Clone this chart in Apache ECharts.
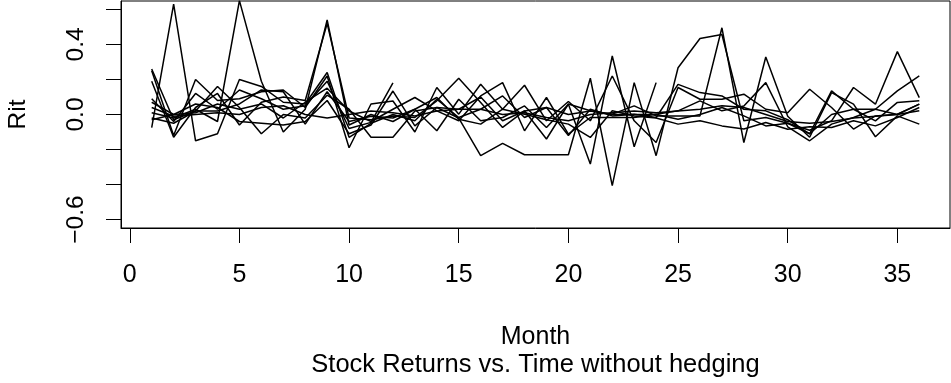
<!DOCTYPE html>
<html>
<head>
<meta charset="utf-8">
<script src="https://cdn.jsdelivr.net/npm/echarts@6/dist/echarts.min.js"></script>
<style>html,body{margin:0;padding:0;background:#fff}#c{width:951px;height:383px}</style>
</head>
<body>
<div id="c"></div>
<script>
var months = [1,2,3,4,5,6,7,8,9,10,11,12,13,14,15,16,17,18,19,20,21,22,23,24,25,26,27,28,29,30,31,32,33,34,35,36];
var xTicks = [0,5,10,15,20,25,30,35];
var yTicks = [-0.6,-0.4,-0.2,0,0.2,0.4,0.6];
var yTickLabels = [-0.6,0,0.4];

var s1 = [-0.075,0.63,-0.15,-0.11,0.20,0.16,0.07,0.06,0.24,-0.13,-0.05,0.00,-0.036,0.087,-0.017,0.03,0.106,-0.017,0.04,-0.12,0.03,-0.008,0.002,-0.017,0.172,0.125,0.106,0.03,0.021,-0.03,-0.11,0.135,0.03,-0.036,0.069,0.078];
var s2 = [0.01,-0.02,0.03,-0.04,0.65,0.19,-0.10,0.03,0.54,-0.06,0.00,-0.04,0.03,-0.093,0.087,-0.036,-0.017,0.049,-0.074,0.059,-0.283,0.334,-0.184,0.182,null,null,null,null,null,null,null,null,null,null,null,null];
var s3 = [0.26,-0.03,0.02,0.16,0.04,-0.11,0.00,-0.02,0.11,0.03,-0.13,-0.13,0.02,0.04,-0.02,-0.235,-0.165,-0.23,-0.23,-0.23,0.207,-0.406,0.182,-0.235,0.267,0.434,0.457,-0.036,-0.017,-0.05,-0.09,-0.036,0.154,0.059,0.359,0.096];
var s4 = [0.25,-0.12,0.20,0.08,0.09,0.13,0.14,0.04,0.22,-0.19,0.06,0.077,-0.10,0.154,0.002,0.173,0.03,0.167,-0.036,0.074,-0.036,0.22,-0.036,-0.16,0.154,0.087,0.087,0.116,0.03,0.01,0.144,0.04,-0.083,-0.008,0.002,0.059];
var s5 = [0.19,-0.13,0.04,0.12,-0.06,0.07,0.10,0.08,0.52,-0.02,-0.03,-0.008,-0.017,0.078,0.207,0.068,-0.074,0.021,-0.14,0.06,0.021,0.002,0.049,-0.008,-0.008,-0.008,0.495,-0.16,0.328,-0.01,-0.13,0.125,0.059,-0.127,-0.008,-0.055];
var s6 = [0.09,-0.04,0.12,0.03,0.14,0.09,0.03,0.05,0.19,-0.08,-0.045,0.18,null,null,null,null,null,null,null,null,null,null,null,null,null,null,null,null,null,null,null,null,null,null,null,null];
var s7 = [0.07,0.00,0.01,0.06,0.03,0.06,-0.02,0.07,0.15,0.02,-0.04,0.03,0.097,0.021,-0.036,0.106,0.182,-0.093,0.097,-0.112,-0.017,-0.017,-0.017,0.002,0.021,0.078,0.021,0.049,0.182,-0.07,-0.15,-0.055,-0.017,0.03,0.135,0.22];
var s8 = [0.04,-0.01,0.00,0.01,0.00,0.04,0.05,0.00,-0.02,0.00,0.02,0.01,-0.008,0.02,0.03,0.03,0.00,0.01,-0.017,-0.036,0.00,0.01,0.02,0.01,0.02,0.03,0.05,0.04,0.00,-0.04,-0.05,-0.04,-0.02,-0.01,0.00,0.021];
var s9 = [-0.02,-0.05,0.02,0.02,0.06,0.14,0.13,-0.055,0.13,-0.04,-0.01,-0.02,0.03,0.097,-0.027,-0.055,0.03,0.002,-0.03,-0.055,-0.131,0.021,-0.008,-0.02,-0.055,-0.036,-0.065,-0.083,-0.046,-0.084,-0.07,-0.074,-0.036,-0.065,-0.017,0.04];
var s10 = [-0.03,0.00,0.06,0.04,-0.04,-0.05,-0.06,-0.04,0.08,-0.11,-0.06,0.134,-0.065,0.04,0.03,0.10,-0.036,0.02,0.04,0.00,0.02,0.00,0.00,0.00,-0.027,0.00,0.04,-0.008,-0.065,-0.05,-0.11,0.00,0.03,0.03,0.00,0.059];

var allSeries = [s1,s2,s3,s4,s5,s6,s7,s8,s9,s10];
var FONT = "'Liberation Sans', Arial, Helvetica, sans-serif";

var chart = echarts.init(document.getElementById('c'), null, {renderer:'canvas'});
chart.setOption({
  animation: false,
  backgroundColor: '#fff',
  grid: {left: 121, right: 1, top: 1, bottom: 155, containLabel: false, outerBoundsMode: 'none',
         show: true, borderColor: '#000', borderWidth: 1, backgroundColor: 'transparent'},
  xAxis: {
    type: 'value', min: -0.4, max: 37.4,
    name: 'Month', nameLocation: 'middle', nameGap: 97,
    nameTextStyle: {fontFamily: FONT, fontSize: 25, color: '#000'},
    axisLine: {show: true, onZero: false, lineStyle: {color: '#000', width: 1}},
    axisTick: {show: true, inside: false, length: 15, lineStyle: {color: '#000', width: 1}, customValues: xTicks},
    axisLabel: {show: true, margin: 35, fontFamily: FONT, fontSize: 25, color: '#000', customValues: xTicks},
    splitLine: {show: false}
  },
  yAxis: {
    type: 'value', min: -0.648, max: 0.648,
    name: 'Rit', nameLocation: 'middle', nameGap: 90, nameRotate: 90,
    nameTextStyle: {fontFamily: FONT, fontSize: 24.5, color: '#000'},
    axisLine: {show: true, onZero: false, lineStyle: {color: '#000', width: 1}},
    axisTick: {show: true, inside: false, length: 15, lineStyle: {color: '#000', width: 1}, customValues: yTicks},
    axisLabel: {show: true, rotate: 90, margin: 32, fontFamily: FONT, fontSize: 24.5, color: '#000', customValues: yTickLabels,
      formatter: function(v){ return (v < 0 ? '\u2212' : '') + Math.abs(v).toFixed(1); }},
    splitLine: {show: false}
  },
  graphic: [{
    type: 'text', x: 535.5, y: 365,
    style: {text: 'Stock Returns vs. Time without hedging', textAlign: 'center', textVerticalAlign: 'middle', font: '25.5px ' + FONT, fill: '#000'}
  }],
  series: allSeries.map(function(s, i){
    return {
      type: 'line', name: 'S' + (i+1), showSymbol: false, symbol: 'none', clip: true,
      connectNulls: false,
      lineStyle: {color: '#000', width: 1.5},
      data: months.map(function(m, j){ return [m, s[j]]; })
    };
  })
});
</script>
</body>
</html>
